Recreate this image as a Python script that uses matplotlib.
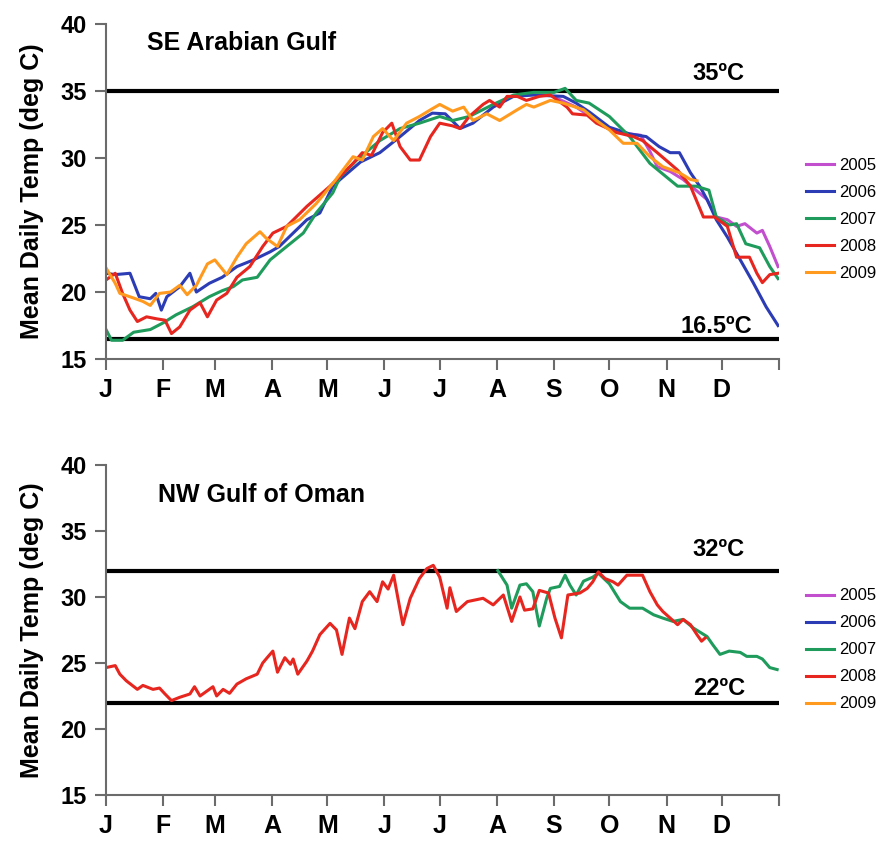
import matplotlib
matplotlib.use("Agg")
import matplotlib.pyplot as plt

# ---------------- data ----------------
month_starts = [0, 31, 59, 90, 120, 151, 181, 212, 243, 273, 304, 334, 365]
month_labels = ["J", "F", "M", "A", "M", "J", "J", "A", "S", "O", "N", "D", ""]
years = ["2005", "2006", "2007", "2008", "2009"]

# SE Arabian Gulf
se_2005_day = [244, 255, 266, 277, 284, 290, 295, 299, 306, 313, 320, 326, 331, 337, 342, 346.5, 353, 356, 360, 364.5]
se_2005_val = [34.5, 33.8, 32.8, 31.9, 31.8, 31.7, 30.5, 29.35, 29.0, 28.4, 27.6, 26.9, 25.6, 25.4, 24.9, 25.1, 24.4, 24.6, 23.4, 21.9]

se_2006_day = [0, 5, 13, 18, 24, 27, 30, 33, 40, 45.5, 49, 56, 63, 71, 80, 89, 94, 109, 116, 123, 127, 138, 148.5,
               159.5, 170, 177, 184, 192, 199, 210, 221, 232, 248, 255, 262.5, 273, 284, 293, 300, 306, 311, 317,
               322, 326, 331, 337, 344, 351, 358, 364.5]
se_2006_val = [21.4, 21.3, 21.4, 19.65, 19.5, 19.9, 18.65, 19.65, 20.4, 21.4, 20.0, 20.65, 21.1, 21.9, 22.4, 23.0,
               23.4, 25.4, 25.9, 27.9, 28.4, 29.7, 30.4, 31.6, 32.8, 33.35, 33.3, 32.2, 32.6, 33.8, 34.6, 34.7, 34.6,
               34.1, 33.4, 32.3, 31.8, 31.6, 30.85, 30.4, 30.4, 28.9, 27.9, 26.9, 25.4, 24.1, 22.4, 20.7, 18.9, 17.5]

se_2007_day = [0, 3, 9, 15, 24, 31, 38, 47, 56, 63, 69, 74, 82, 89, 98, 107, 114, 123, 127, 136, 148.5, 159.5, 170,
               181, 188, 197, 210, 221, 232, 243, 249, 255, 262, 273, 284, 295, 310, 320, 327, 331, 338, 342, 347,
               354.5, 360, 364.5]
se_2007_val = [17.2, 16.4, 16.4, 17.0, 17.2, 17.7, 18.3, 18.9, 19.65, 20.1, 20.4, 20.9, 21.1, 22.4, 23.4, 24.4, 25.9,
               27.4, 28.6, 29.85, 31.3, 32.2, 32.6, 33.1, 32.8, 33.1, 34.0, 34.7, 34.9, 34.9, 35.2, 34.3, 34.1, 33.1,
               31.6, 29.6, 27.9, 27.9, 27.6, 25.6, 25.0, 25.1, 23.6, 23.3, 21.9, 21.0]

se_2008_day = [0, 5, 9, 13, 17, 22, 27.5, 32, 35.5, 40, 45.5, 51, 55, 60, 65.5, 71, 78, 85, 90.5, 98, 109, 121.5,
               134, 139, 144, 150, 155, 159.5, 165, 170, 176, 181, 188, 192, 197, 204.5, 208, 213.5, 217.5, 223,
               228, 235, 241, 250, 253, 261, 266, 277, 286, 291, 299, 310, 317, 324, 330, 337, 342, 349, 353, 356,
               360, 364.5]
se_2008_val = [20.9, 21.4, 19.9, 18.65, 17.8, 18.15, 18.0, 17.9, 16.9, 17.4, 18.65, 19.2, 18.15, 19.4, 19.9, 21.1,
               21.9, 23.4, 24.4, 24.9, 26.4, 27.9, 29.6, 30.4, 30.2, 31.9, 32.6, 30.85, 29.85, 29.85, 31.6, 32.6,
               32.4, 32.2, 33.1, 34.0, 34.3, 33.8, 34.6, 34.6, 34.3, 34.6, 34.7, 33.8, 33.3, 33.2, 32.6, 31.9, 31.6,
               31.3, 30.4, 29.1, 27.9, 25.6, 25.6, 24.9, 22.6, 22.6, 21.4, 20.7, 21.3, 21.4]

se_2009_day = [0, 5, 7.5, 15, 20, 24, 29, 35, 40, 44, 49, 55, 59, 65.5, 71, 76, 83.5, 87, 93, 98, 105, 114, 123, 134,
               139, 145, 150, 156, 163, 170, 176, 181, 188, 194, 199, 206.5, 213.5, 223, 228, 232, 241, 248, 259,
               266, 273, 280.5, 288, 295, 302, 311, 317, 320.5]
se_2009_val = [21.8, 20.65, 19.9, 19.55, 19.3, 19.0, 19.9, 20.0, 20.5, 19.8, 20.5, 22.1, 22.4, 21.3, 22.6, 23.6,
               24.5, 24.0, 23.4, 24.9, 25.4, 26.6, 28.1, 30.1, 29.85, 31.6, 32.2, 31.3, 32.6, 33.1, 33.6, 34.0, 33.5,
               33.8, 32.8, 33.3, 32.8, 33.6, 34.0, 33.8, 34.3, 34.1, 33.6, 32.8, 32.1, 31.1, 31.1, 30.1, 29.35, 28.9,
               28.4, 28.3]

# NW Gulf of Oman
nw_2005_day, nw_2005_val = [], []
nw_2006_day, nw_2006_val = [], []
nw_2009_day, nw_2009_val = [], []

nw_2007_day = [212.5, 217.5, 220, 224.5, 228, 231.5, 235, 239, 241, 246, 249, 251.6, 255, 259, 264, 267, 273, 279,
               284, 291, 297, 302, 307.5, 313, 318.5, 326, 329, 333, 338, 344, 347.5, 353, 356, 360, 364]
nw_2007_val = [32.0, 30.9, 29.15, 30.9, 31.0, 30.4, 27.8, 29.9, 30.65, 30.8, 31.65, 30.9, 30.15, 31.2, 31.5, 31.8,
               31.0, 29.65, 29.15, 29.15, 28.65, 28.4, 28.15, 28.3, 27.65, 27.0, 26.4, 25.65, 25.9, 25.8, 25.5, 25.5,
               25.3, 24.65, 24.5]

nw_2008_day = [0, 5, 7.5, 11, 17, 20, 25.5, 29, 32, 35.5, 40, 45.5, 48, 51, 58, 60, 63.5, 67, 71, 76, 82, 85, 88,
               90.5, 93, 97, 100, 101.5, 104, 109, 112, 116, 121.5, 125, 128, 132, 135, 139, 143, 147, 150, 153, 156,
               161, 165, 170, 174, 177.5, 181, 185, 186.5, 190, 196, 204.5, 210, 215.5, 220, 224.5, 227, 231.5, 235,
               240, 243.5, 247, 250.5, 257, 261, 264, 267, 270.6, 275, 277.7, 282.5, 286, 291, 295, 299, 302, 306,
               310, 313, 317, 320.5, 323, 325]
nw_2008_val = [24.65, 24.8, 24.15, 23.65, 23.0, 23.3, 23.0, 23.1, 22.65, 22.15, 22.4, 22.65, 23.2, 22.5, 23.2, 22.5,
               23.0, 22.7, 23.4, 23.8, 24.15, 25.0, 25.5, 25.9, 24.3, 25.4, 24.9, 25.3, 24.15, 25.15, 25.9, 27.15,
               28.0, 27.5, 25.65, 28.4, 27.6, 29.65, 30.4, 29.65, 31.15, 30.6, 31.65, 27.9, 29.9, 31.4, 32.15, 32.4,
               31.5, 29.15, 30.7, 28.9, 29.65, 29.9, 29.4, 30.15, 28.15, 30.0, 29.0, 29.1, 30.5, 30.3, 28.4, 26.9,
               30.15, 30.3, 30.65, 31.15, 31.9, 31.4, 31.15, 30.9, 31.65, 31.65, 31.65, 30.4, 29.4, 28.9, 28.4, 27.9,
               28.3, 27.9, 27.15, 26.65, 26.9]

se_thresholds = [35.0, 16.5]
se_threshold_labels = ["35ºC", "16.5ºC"]
nw_thresholds = [32.0, 22.0]
nw_threshold_labels = ["32ºC", "22ºC"]

colors = ["#c24fce", "#2b3cb5", "#1f9b5c", "#e6261f", "#ff9a1f"]

# ---------------- figure ----------------
plt.rcParams["font.family"] = ["Liberation Sans", "DejaVu Sans"]
fig = plt.figure(figsize=(8.82, 8.43), dpi=100)

ax1 = fig.add_axes([0.1202, 0.5741, 0.7630, 0.3974])
ax2 = fig.add_axes([0.1202, 0.0570, 0.7630, 0.3914])

panels = [
    (ax1, "SE Arabian Gulf",
     [(se_2005_day, se_2005_val), (se_2006_day, se_2006_val), (se_2007_day, se_2007_val),
      (se_2008_day, se_2008_val), (se_2009_day, se_2009_val)],
     se_thresholds, se_threshold_labels, [(346.5, 35.82), (350.3, 16.94)], (22.2, 38.06), 0.813),
    (ax2, "NW Gulf of Oman",
     [(nw_2005_day, nw_2005_val), (nw_2006_day, nw_2006_val), (nw_2007_day, nw_2007_val),
      (nw_2008_day, nw_2008_val), (nw_2009_day, nw_2009_val)],
     nw_thresholds, nw_threshold_labels, [(346.5, 33.11), (346.5, 22.56)], (28.2, 37.23), 0.302),
]

for ax, title, series, thr, thr_labels, thr_pos, title_pos, leg_top in panels:
    handles = []
    for (d, v), c, yr in zip(series, colors, years):
        h, = ax.plot(d, v, color=c, lw=2.2, label=yr, solid_joinstyle="round")
        handles.append(h)
    for t in thr:
        ax.axhline(t, color="black", lw=3.0, zorder=1)
    for lab, (x, y) in zip(thr_labels, thr_pos):
        ax.text(x, y, lab, ha="right", va="baseline", fontsize=17, fontweight="bold")
    ax.text(title_pos[0], title_pos[1], title, ha="left", va="baseline", fontsize=18, fontweight="bold")

    ax.set_xlim(0, 365)
    ax.set_ylim(15, 40)
    ax.set_yticks([15, 20, 25, 30, 35, 40])
    ax.set_xticks(month_starts)
    ax.set_xticklabels(month_labels)
    for s in ["top", "right"]:
        ax.spines[s].set_visible(False)
    for s in ["left", "bottom"]:
        ax.spines[s].set_color("#6b6b6b")
        ax.spines[s].set_linewidth(1.5)
    ax.tick_params(axis="both", direction="out", length=8, width=1.5, color="#6b6b6b")
    ax.tick_params(axis="y", labelsize=17, pad=6)
    ax.tick_params(axis="x", labelsize=18, pad=6)
    for lbl in ax.get_xticklabels() + ax.get_yticklabels():
        lbl.set_fontweight("bold")
    ax.set_ylabel("Mean Daily Temp (deg C)", fontsize=18, fontweight="bold", labelpad=12)

    leg = ax.legend(handles=handles, loc="upper left", bbox_to_anchor=(0.914, leg_top),
                    bbox_transform=fig.transFigure, frameon=False,
                    handlelength=1.7, handletextpad=0.25, labelspacing=0.72,
                    borderpad=0, borderaxespad=0,
                    prop={"family": "Liberation Sans", "size": 12})

fig.savefig("out.png", dpi=100)
